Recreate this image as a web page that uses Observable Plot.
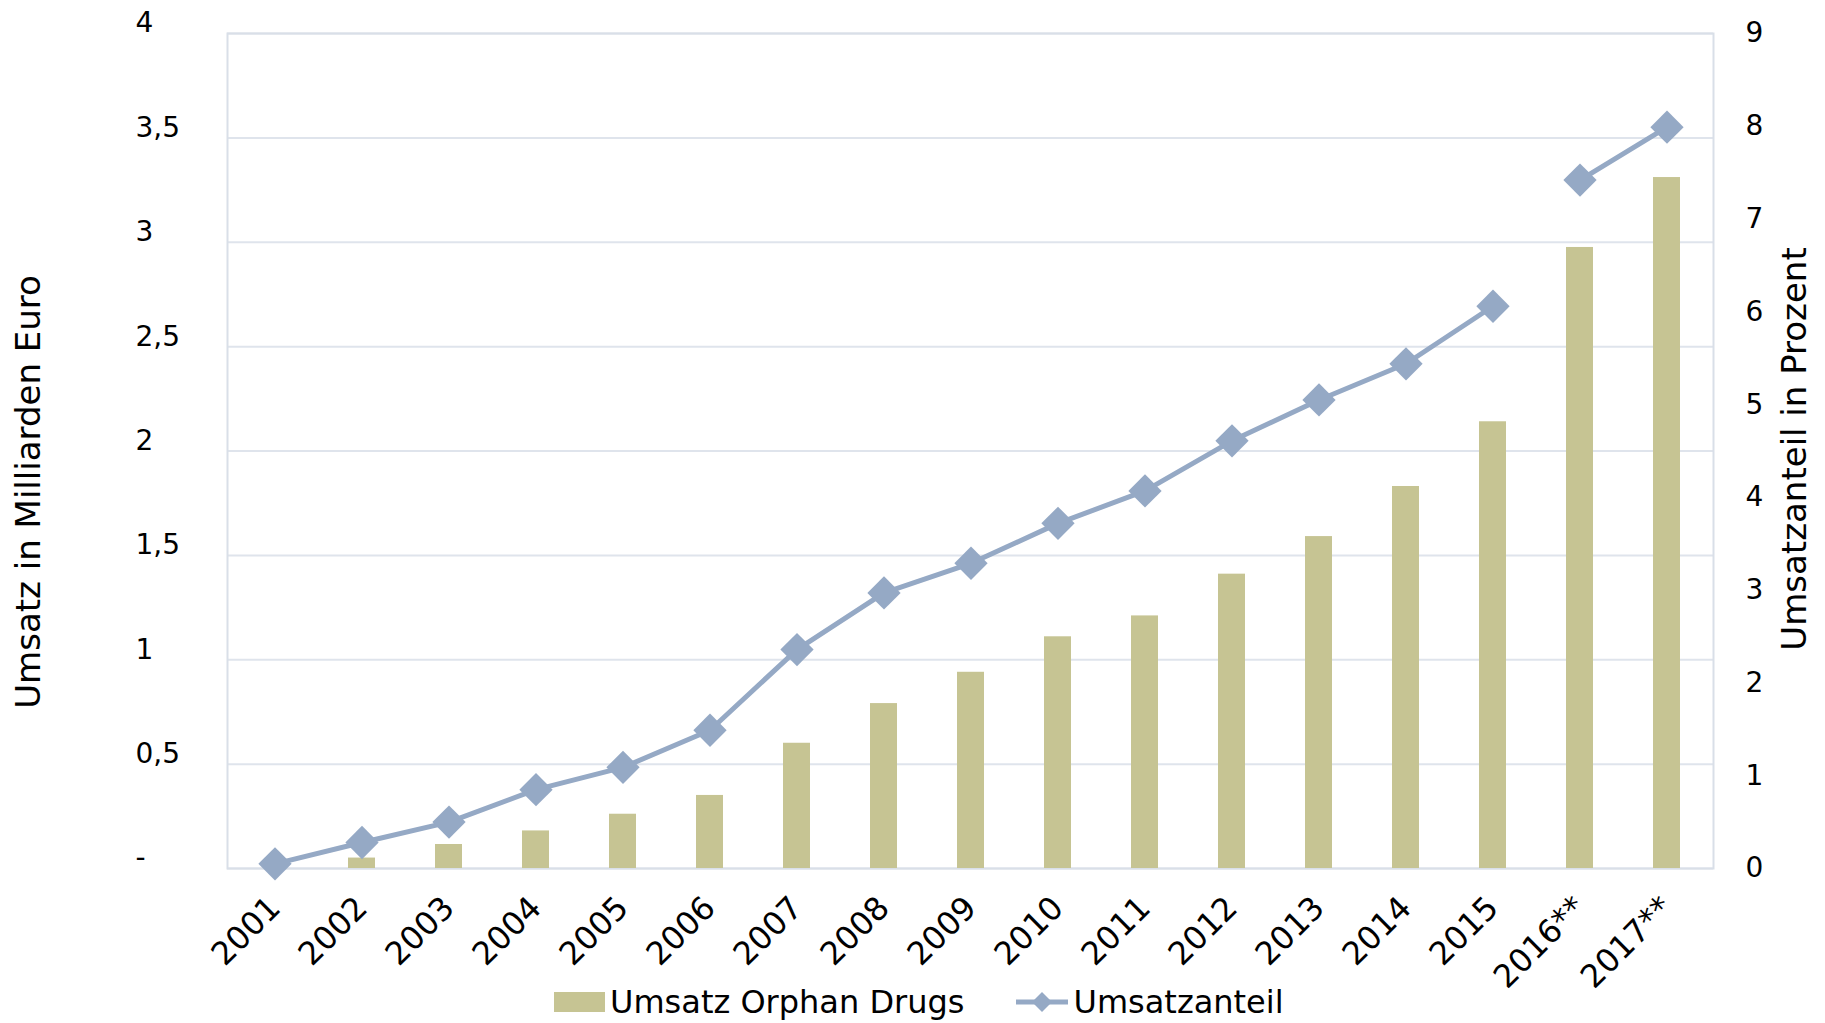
<!DOCTYPE html>
<html><head><meta charset="utf-8">
<script src="https://cdn.jsdelivr.net/npm/d3@7"></script>
<script src="https://cdn.jsdelivr.net/npm/@observablehq/plot@0.6"></script>
<style>
body{margin:0;background:#fff;font-family:"DejaVu Sans",Verdana,sans-serif;}
#chart{position:relative;width:1825px;height:1023px;overflow:hidden;}
#chart > svg{position:absolute;left:0;top:0;}
#legend{position:absolute;left:554px;top:983px;display:flex;align-items:center;font-size:32px;color:#000;white-space:nowrap;}
.sw{display:inline-block;width:51px;height:20px;background:#c6c493;margin-right:5px;}
</style></head><body><div id="chart"></div>
<script>
const years = ["2001","2002","2003","2004","2005","2006","2007","2008","2009","2010","2011","2012","2013","2014","2015","2016**","2017**"];
const umsatz = [0, 0.05, 0.115, 0.18, 0.26, 0.35, 0.60, 0.79, 0.94, 1.11, 1.21, 1.41, 1.59, 1.83, 2.14, 2.975, 3.31];
const anteil = [0.05, 0.28, 0.5, 0.85, 1.09, 1.49, 2.36, 2.97, 3.29, 3.72, 4.07, 4.61, 5.05, 5.44, 6.06, 7.42, 7.99];
const segment = ["Ist","Ist","Ist","Ist","Ist","Ist","Ist","Ist","Ist","Ist","Ist","Ist","Ist","Ist","Ist","Prognose","Prognose"];
const leftTicks = [0, 0.5, 1, 1.5, 2, 2.5, 3, 3.5, 4];
const rightTicks = [0, 1, 2, 3, 4, 5, 6, 7, 8, 9];
const leftMax = 4, rightMax = 9;

const data = years.map((y, i) => ({year: y, umsatz: umsatz[i], anteil: anteil[i], segment: segment[i]}));
const toLeft = v => v * leftMax / rightMax;

const barColor = "#c6c493", lineColor = "#95a9c5";

const chart = Plot.plot({
  width: 1825, height: 1023,
  marginLeft: 227, marginRight: 112, marginTop: 33, marginBottom: 155,
  style: {fontFamily: "DejaVu Sans, Verdana, sans-serif", fontSize: "28px", color: "#000", background: "transparent", overflow: "visible"},
  x: {domain: years, paddingInner: 0.69, paddingOuter: 0.345},
  y: {domain: [0, leftMax]},
  marks: [
    Plot.gridY(leftTicks, {stroke: "#dfe4ec", strokeOpacity: 1, strokeWidth: 2}),
    Plot.frame({stroke: "#d9dfe8", strokeWidth: 2}),
    Plot.barY(data, {x: "year", y: "umsatz", fill: barColor}),
    Plot.line(data, {x: "year", y: d => toLeft(d.anteil), z: "segment", stroke: lineColor, strokeWidth: 5}),
    Plot.dot(data, {x: "year", y: d => toLeft(d.anteil), symbol: "diamond2", r: 15, fill: lineColor, stroke: null}),
    Plot.axisY(leftTicks, {anchor: "left", tickSize: 0, tickPadding: 92, textAnchor: "start", label: null, dy: -10,
      tickFormat: d => d === 0 ? "-" : String(d).replace(".", ",")}),
    Plot.axisY(rightTicks.map(toLeft), {anchor: "right", tickSize: 0, tickPadding: 32, label: null,
      tickFormat: d => String(Math.round(d * rightMax / leftMax))}),
    Plot.axisX({anchor: "bottom", tickSize: 0, tickPadding: 34, tickRotate: -45, label: null, fontSize: 32}),
    Plot.text(["Umsatz in Milliarden Euro"], {frameAnchor: "left", textAnchor: "middle", dx: -198, dy: 41, rotate: -90, fontSize: 34}),
    Plot.text(["Umsatzanteil in Prozent"], {frameAnchor: "right", textAnchor: "middle", dx: 82, dy: -2, rotate: -90, fontSize: 34})
  ]
});
const root = document.getElementById("chart");
root.appendChild(chart);

const legend = document.createElement("div");
legend.id = "legend";
legend.innerHTML = `<span class="sw"></span><span>Umsatz Orphan Drugs</span>
<svg width="52" height="30" style="margin-left:52px;margin-right:5px" viewBox="0 0 52 30">
<line x1="0" y1="15" x2="52" y2="15" stroke="${lineColor}" stroke-width="5"/>
<path d="M26 5 L36 15 L26 25 L16 15 Z" fill="${lineColor}"/></svg><span>Umsatzanteil</span>`;
root.appendChild(legend);
</script></body></html>
